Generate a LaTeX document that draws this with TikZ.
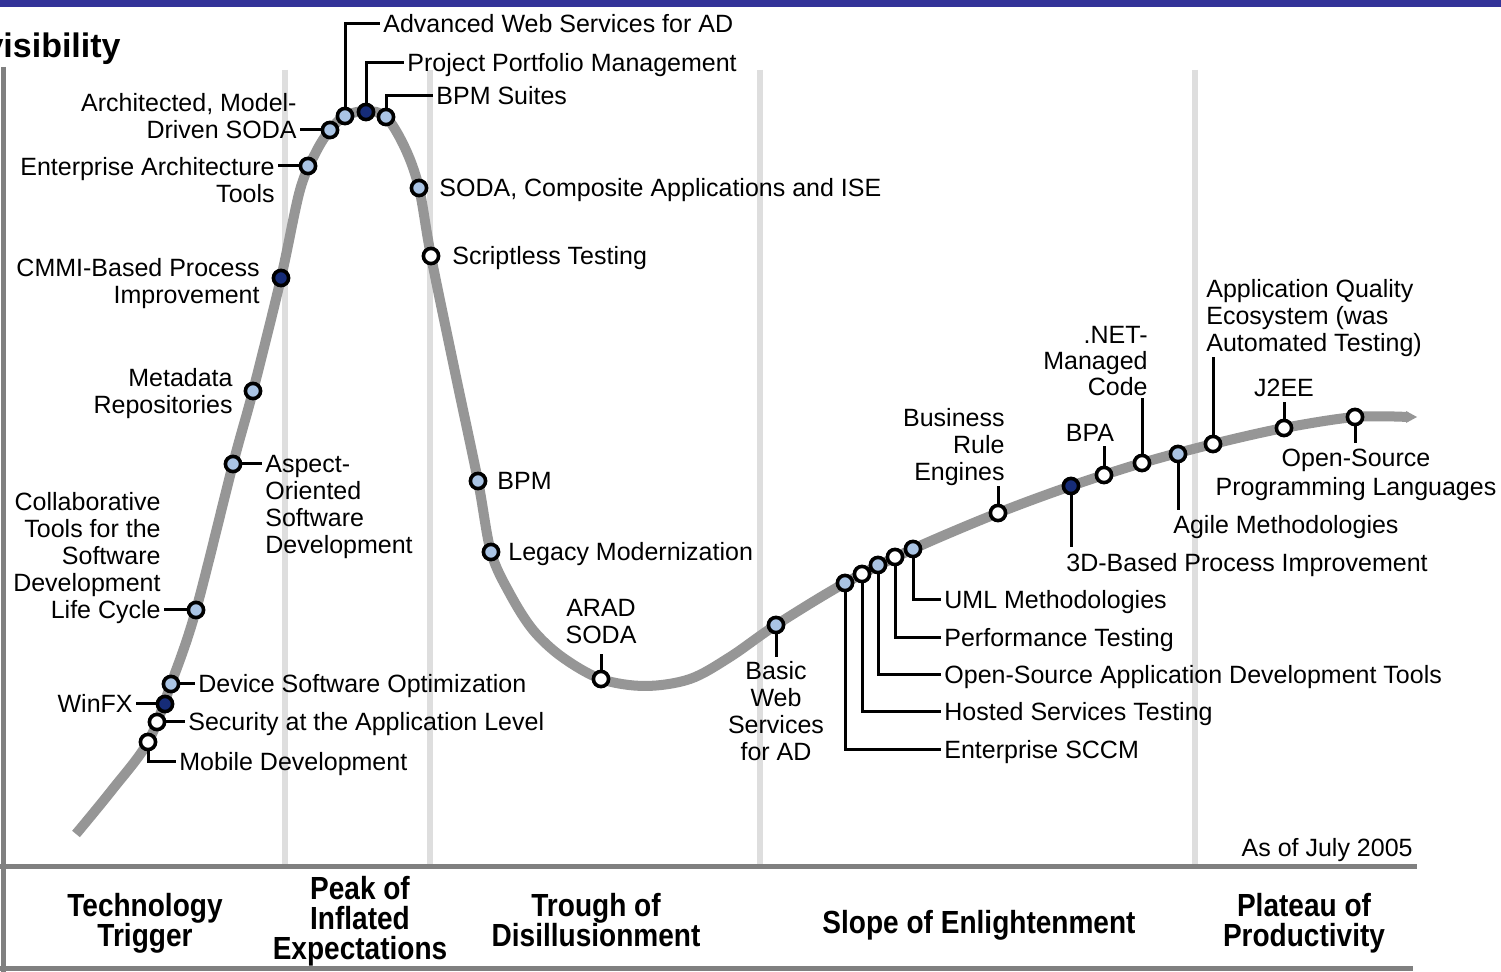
\documentclass[tikz,border=0pt]{standalone}
\usepackage{fontspec}
\setmainfont{Liberation Sans}
\newfontfamily\phasefont{Liberation Sans}[FakeStretch=0.876]
\definecolor{bandblue}{RGB}{51,51,153}
\definecolor{hypegray}{RGB}{150,150,150}
\definecolor{sepgray}{RGB}{222,222,222}
\definecolor{axisgray}{RGB}{128,128,128}
\definecolor{mklight}{RGB}{170,196,228}
\definecolor{mkdark}{RGB}{22,44,120}
\begin{document}
\begin{tikzpicture}[x=0.5pt,y=-0.5pt,
  lbl/.style={font=\fontsize{12.5}{13.5}\selectfont, inner ysep=0pt, inner xsep=1.5pt, text height=9pt, text depth=0pt},
  mlbl/.style={font=\fontsize{12.5}{13.5}\selectfont, inner ysep=0pt, inner xsep=1.5pt, text depth=0pt},
  phase/.style={font=\phasefont\fontsize{16}{15}\selectfont\bfseries, align=center, inner sep=0pt, text depth=0pt, anchor=north},
  mk/.style={circle, draw=black, line width=1.8pt, minimum size=7.6pt, inner sep=0pt},
  lt/.style={mk, fill=mklight},
  dk/.style={mk, fill=mkdark},
  wt/.style={mk, fill=white},
  leader/.style={draw=black, line width=1.5pt},
  sep/.style={draw=sepgray, line width=3pt},
  axisline/.style={draw=axisgray, line width=2.5pt},
  hype/.style={draw=hypegray, line width=5pt}]

% canvas and top band
\useasboundingbox (0,0) rectangle (1501,972);
\fill[white] (0,0) rectangle (1501,972);
\fill[bandblue] (0,0) rectangle (1501,7);

% phase separators
\foreach \sx in {285,430,760,1195}
  \draw[sep] (\sx,70) -- (\sx,866);

% axes
\draw[axisline] (3,67) -- (3,972);
\draw[axisline] (0,867) -- (1417,867);
\draw[axisline] (0,969) -- (1413,969);

% vertical axis title (its first letter runs past the left edge)
\node[font=\fontsize{17}{20}\selectfont\bfseries, inner sep=0pt, anchor=base east] (ytitle) at (121,58) {visibility};

% hype curve
\draw[hype] plot[smooth, tension=0.55] coordinates {
  (76,834) (112,790) (148,742) (171,684) (196,610) (233,464) (253,391)
  (281,278) (300,190) (316,152) (330,130) (345,116) (366,111) (386,117) (405,148)
  (419,188) (431,256) (455,372) (478,481) (491,552) (510,594) (533,630)
  (562,657) (601,679) (645,686) (690,679) (730,657) (776,625) (845,583)
  (913,549) (998,513) (1071,486) (1142,463) (1213,444) (1284,428)
  (1355,417) (1408,417)};
\fill[hypegray] (1406,411) -- (1417,417) -- (1406,423) -- cycle;

% technology markers
\node[wt] (mob)    at (148,742) {};
\node[wt] (sec)    at (157,722) {};
\node[dk] (winfx)  at (165,704) {};
\node[lt] (dso)    at (171,684) {};
\node[lt] (collab) at (196,610) {};
\node[lt] (aspect) at (233,464) {};
\node[lt] (meta)   at (253,391) {};
\node[dk] (cmmi)   at (281,278) {};
\node[lt] (eat)    at (308,166) {};
\node[lt] (arch)   at (330,130) {};
\node[lt] (aws)    at (345,116) {};
\node[dk] (ppm)    at (366,112) {};
\node[lt] (bpms)   at (386,117) {};
\node[lt] (soda)   at (419,188) {};
\node[wt] (script) at (431,256) {};
\node[lt] (bpm)    at (478,481) {};
\node[lt] (legacy) at (491,552) {};
\node[wt] (arad)   at (601,679) {};
\node[lt] (bws)    at (776,625) {};
\node[lt] (sccm)   at (845,583) {};
\node[wt] (hosted) at (862,574) {};
\node[lt] (ossdev) at (878,565) {};
\node[wt] (perf)   at (895,557) {};
\node[lt] (uml)    at (913,549) {};
\node[wt] (bre)    at (998,513) {};
\node[dk] (threed) at (1071,486) {};
\node[wt] (bpa)    at (1104,475) {};
\node[wt] (net)    at (1142,463) {};
\node[lt] (agile)  at (1178,454) {};
\node[wt] (aqe)    at (1213,444) {};
\node[wt] (jee)    at (1284,428) {};
\node[wt] (osspl)  at (1355,417) {};

% labels
\node[lbl, anchor=west] (mobL) at (176,762) {Mobile Development};
\node[lbl, anchor=west] (secL) at (185,722) {Security at the Application Level};
\node[lbl, anchor=east] (winfxL) at (136,704) {WinFX};
\node[lbl, anchor=west] (dsoL) at (195,684) {Device Software Optimization};
\node[mlbl, align=right, anchor=south east] (collabL) at (164,619)
  {Collaborative\\Tools for the\\Software\\Development\\Life Cycle};
\node[mlbl, align=left, anchor=north west] (aspectL) at (262,455)
  {Aspect-\\Oriented\\Software\\Development};
\node[mlbl, align=right, anchor=north east] (metaL) at (236,368) {Metadata\\Repositories};
\node[mlbl, align=right, anchor=north east] (cmmiL) at (263,258) {CMMI-Based Process\\Improvement};
\node[mlbl, align=right, anchor=north east] (eatL) at (278,157) {Enterprise Architecture\\Tools};
\node[mlbl, align=right, anchor=south east] (archL) at (300,139) {Architected, Model-\\Driven SODA};
\node[lbl, anchor=west] (awsL) at (380,24) {Advanced Web Services for AD};
\node[lbl, anchor=west] (ppmL) at (404,63) {Project Portfolio Management};
\node[lbl, anchor=west] (bpmsL) at (433,96) {BPM Suites};
\node[lbl, anchor=west] (sodaL) at (436,188) {SODA, Composite Applications and ISE};
\node[lbl, anchor=west] (scriptL) at (449,256) {Scriptless Testing};
\node[lbl, anchor=west] (bpmL) at (494,481) {BPM};
\node[lbl, anchor=west] (legacyL) at (505,552) {Legacy Modernization};
\node[mlbl, align=center, anchor=south] (aradL) at (601,644) {ARAD\\SODA};
\node[mlbl, align=center, anchor=north] (bwsL) at (776,661) {Basic\\Web\\Services\\for AD};
\node[lbl, anchor=west] (sccmL) at (941,750) {Enterprise SCCM};
\node[lbl, anchor=west] (hostedL) at (941,712) {Hosted Services Testing};
\node[lbl, anchor=west] (ossdevL) at (941,675) {Open-Source Application Development Tools};
\node[lbl, anchor=west] (perfL) at (941,638) {Performance Testing};
\node[lbl, anchor=west] (umlL) at (941,600) {UML Methodologies};
\node[mlbl, align=right, anchor=north east] (breL) at (1008,408) {Business\\Rule\\Engines};
\node[lbl, anchor=west] (threedL) at (1063,563) {3D-Based Process Improvement};
\node[lbl, anchor=center] (bpaL) at (1090,433) {BPA};
\node[mlbl, align=right, anchor=north east, font=\fontsize{12.5}{13}\selectfont] (netL) at (1151,326) {.NET-\\Managed\\Code};
\node[lbl, anchor=west] (agileL) at (1170,525) {Agile Methodologies};
\node[mlbl, align=left, anchor=north west] (aqeL) at (1203,279) {Application Quality\\Ecosystem (was\\Automated Testing)};
\node[lbl, anchor=center] (jeeL) at (1284,388) {J2EE};
\node[mlbl, align=center, anchor=north, font=\fontsize{12.5}{14.5}\selectfont] (ossplL) at (1356,449) {Open-Source\\Programming Languages};
\node[lbl, anchor=east] (asof) at (1416,848) {As of July 2005};

% free ends of the short leaders
\coordinate (breEnd) at (998,486);
\coordinate (threedEnd) at (1071,547);
\coordinate (bpaEnd) at (1104,446);
\coordinate (netEnd) at (1142,398);
\coordinate (agileEnd) at (1178,510);
\coordinate (aqeEnd) at (1213,357);
\coordinate (jeeEnd) at (1284,402);
\coordinate (osspEnd) at (1355,443);
\coordinate (aradEnd) at (601,654);
\coordinate (bwsEnd) at (776,657);

% leaders
\draw[leader] (mob.south) |- (mobL.west);
\draw[leader] (sec.east) -- (secL.west);
\draw[leader] (winfx.west) -- (winfxL.east);
\draw[leader] (dso.east) -- (dsoL.west);
\draw[leader] (collab.west) -- ([yshift=4.5pt]collabL.south east);
\draw[leader] (aspect.east) -- ([yshift=-4.5pt]aspectL.north west);
\draw[leader] (eat.west) -- ([yshift=-4.5pt]eatL.north east);
\draw[leader] (arch.west) -- ([yshift=4.5pt]archL.south east);
\draw[leader] (aws.north) |- (awsL.west);
\draw[leader] (ppm.north) |- (ppmL.west);
\draw[leader] (bpms.north) |- (bpmsL.west);
\draw[leader] (arad.north) -- (aradEnd);
\draw[leader] (bws.south) -- (bwsEnd);
\draw[leader] (sccm.south) |- (sccmL.west);
\draw[leader] (hosted.south) |- (hostedL.west);
\draw[leader] (ossdev.south) |- (ossdevL.west);
\draw[leader] (perf.south) |- (perfL.west);
\draw[leader] (uml.south) |- (umlL.west);
\draw[leader] (bre.north) -- (breEnd);
\draw[leader] (threed.south) -- (threedEnd);
\draw[leader] (bpa.north) -- (bpaEnd);
\draw[leader] (net.north) -- (netEnd);
\draw[leader] (agile.south) -- (agileEnd);
\draw[leader] (aqe.north) -- (aqeEnd);
\draw[leader] (jee.north) -- (jeeEnd);
\draw[leader] (osspl.south) -- (osspEnd);

% hype-cycle phases
\node[phase] (ph1) at (145,893) {Technology\\Trigger};
\node[phase] (ph2) at (360,876) {Peak of\\Inflated\\Expectations};
\node[phase] (ph3) at (596,893) {Trough of\\Disillusionment};
\node[phase] (ph4) at (979,910) {Slope of Enlightenment};
\node[phase] (ph5) at (1304,893) {Plateau of\\Productivity};
\end{tikzpicture}
\end{document}
